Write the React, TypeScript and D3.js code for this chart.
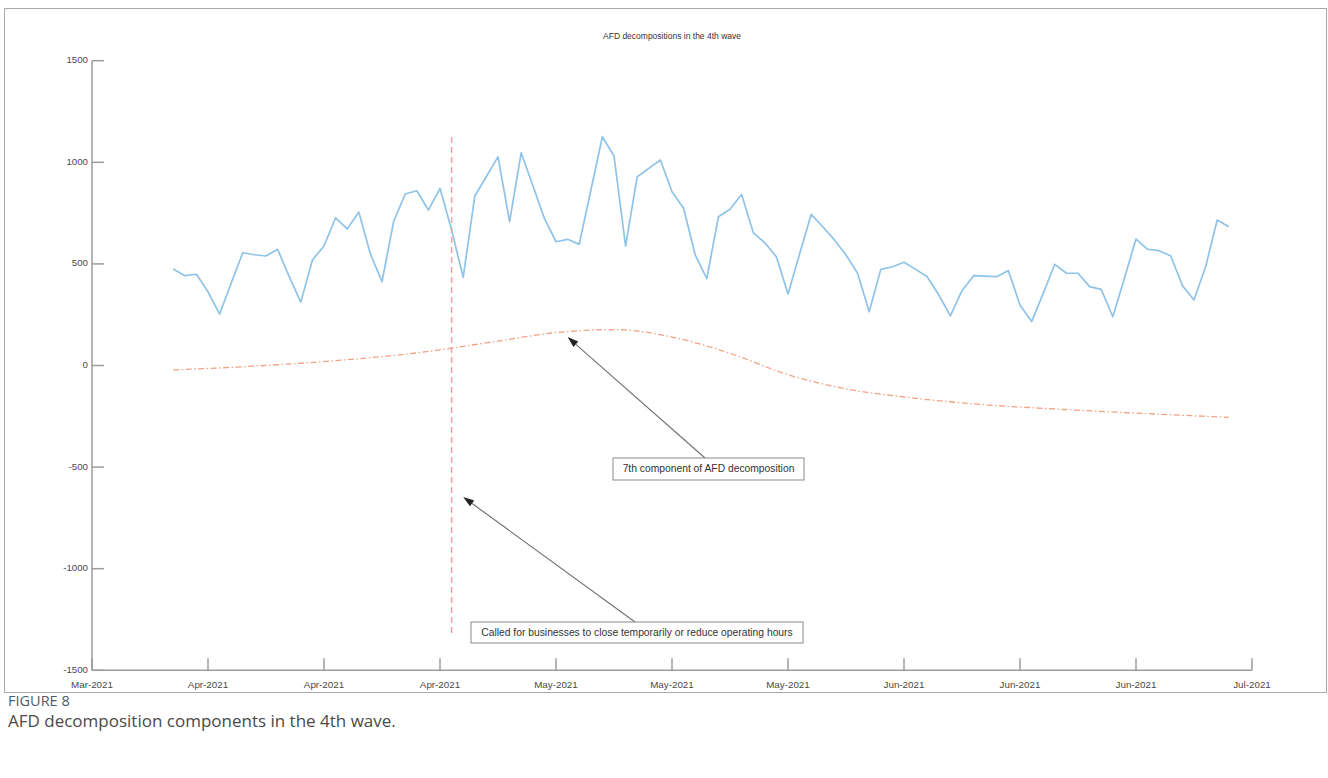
import React from "react";
import * as d3 from "d3";

const W = 1328;
const H = 778;

// Daily series, first value on 7 Apr 2021
const firstDay = "2021-04-07";
const dailyValues = [
  475, 442, 449, 363, 253, 406, 555, 545, 539, 572,
  437, 312, 519, 588, 727, 672, 755, 549, 412, 708,
  844, 860, 765, 872, 667, 434, 834, 930, 1027, 708,
  1047, 886, 724, 609, 621, 596, 861, 1126, 1031, 588,
  929, 970, 1011, 855, 774, 544, 427, 732, 769, 842,
  654, 604, 535, 352, 549, 744, 683, 618, 544, 454,
  265, 473, 486, 508, 473, 437, 347, 244, 368, 442,
  440, 437, 467, 298, 216, 355, 498, 454, 454, 388,
  375, 240, 429, 622, 572, 565, 539, 393, 322, 486,
  716, 683,
];

// 7th AFD component (slow trend), sampled at day offsets from firstDay
const trendDays = [0, 7, 14, 21, 28, 33, 38, 43, 48, 53, 58, 63, 70, 77, 84, 91];
const trendValues = [-22, -3, 24, 62, 120, 162, 177, 140, 60, -45, -115, -155, -193, -217, -237, -255];

// Policy event marker
const eventDay = "2021-05-01";
const eventSpan = [-1325, 1125];

const xDomain = ["2021-03-31", "2021-07-09"];
const xTickDates = [
  "2021-03-31", "2021-04-10", "2021-04-20", "2021-04-30", "2021-05-10", "2021-05-20",
  "2021-05-30", "2021-06-09", "2021-06-19", "2021-06-29", "2021-07-09",
];
const yTicks = [-1500, -1000, -500, 0, 500, 1000, 1500];

const chartTitle = "AFD decompositions in the 4th wave";
const noteTexts = [
  "7th component of AFD decomposition",
  "Called for businesses to close temporarily or reduce operating hours",
];
// arrow tips in data space: [date, value]
const noteTips: [string, number][] = [
  ["2021-05-11", 140],
  ["2021-05-02", -647],
];
const captionLabel = "FIGURE 8";
const captionText = "AFD decomposition components in the 4th wave.";

const parse = d3.timeParse("%Y-%m-%d");
const fmt = d3.timeFormat("%b-%Y");

export default function App() {
  const x = d3
    .scaleTime()
    .domain(xDomain.map((d) => parse(d) as Date))
    .range([92, 1252]);
  const y = d3.scaleLinear().domain([-1500, 1500]).range([670.3, 60.7]);

  const start = parse(firstDay) as Date;
  const daily = dailyValues.map((v, i) => ({ date: d3.timeDay.offset(start, i), v }));
  const trend = trendDays.map((d, i) => ({ date: d3.timeDay.offset(start, d), v: trendValues[i] }));

  const line = d3
    .line<{ date: Date; v: number }>()
    .x((d) => x(d.date))
    .y((d) => y(d.v));
  const smooth = d3
    .line<{ date: Date; v: number }>()
    .x((d) => x(d.date))
    .y((d) => y(d.v))
    .curve(d3.curveMonotoneX);

  const ex = x(parse(eventDay) as Date);
  const axisColor = "#9d9d9d";
  const tickColor = "#4a4a4a";
  const font = "'Liberation Sans', Arial, sans-serif";
  const capFont = "'Open Sans', 'Noto Sans', sans-serif";

  // annotation boxes (pixel layout) and arrow start points on the box edge
  const boxes = [
    { x: 613, y: 458, w: 191, h: 22, ax: 705 },
    { x: 471, y: 622, w: 332, h: 21, ax: 635 },
  ];

  const arrow = (x1: number, y1: number, x2: number, y2: number, key: string) => {
    const ang = Math.atan2(y2 - y1, x2 - x1);
    const L = 11;
    const hw = 3.6;
    const bx = x2 - L * Math.cos(ang);
    const by = y2 - L * Math.sin(ang);
    const px = -Math.sin(ang) * hw;
    const py = Math.cos(ang) * hw;
    return (
      <g key={key}>
        <line x1={x1} y1={y1} x2={bx} y2={by} stroke="#6f6f6f" strokeWidth={1.1} />
        <path d={`M${x2},${y2}L${bx + px},${by + py}L${bx - px},${by - py}Z`} fill="#222" />
      </g>
    );
  };

  return (
    <div style={{ position: "absolute", left: 0, top: 0 }}>
      <svg width={W} height={H} style={{ display: "block", background: "#fff" }}>
        {/* figure frame */}
        <rect x={4.5} y={8.5} width={1322} height={684} fill="none" stroke="#a8a8a8" strokeWidth={1} />

        {/* title */}
        <text x={672} y={37} textAnchor="middle" dominantBaseline="middle" fontFamily={font} fontSize={8.5} fill="#333">
          {chartTitle}
        </text>

        {/* axes */}
        <line x1={92} y1={y(-1500)} x2={92} y2={y(1500)} stroke={axisColor} strokeWidth={1.5} />
        <line x1={92} y1={y(-1500)} x2={1252} y2={y(-1500)} stroke={axisColor} strokeWidth={1.5} />
        {yTicks.map((t) => (
          <g key={"y" + t}>
            <line x1={92} x2={104} y1={y(t)} y2={y(t)} stroke={axisColor} strokeWidth={1.5} />
            <text x={88} y={y(t)} textAnchor="end" dominantBaseline="middle" fontFamily={font} fontSize={9.7} fill={tickColor}>
              {String(t)}
            </text>
          </g>
        ))}
        {xTickDates.map((s) => {
          const d = parse(s) as Date;
          return (
            <g key={"x" + s}>
              <line x1={x(d)} x2={x(d)} y1={y(-1500)} y2={y(-1500) - 12} stroke={axisColor} strokeWidth={1.5} />
              <text x={x(d)} y={685} textAnchor="middle" dominantBaseline="middle" fontFamily={font} fontSize={9.8} fill={tickColor}>
                {fmt(d)}
              </text>
            </g>
          );
        })}

        {/* data */}
        <path d={line(daily) || ""} fill="none" stroke="#8fc3e8" strokeWidth={1.7} strokeLinejoin="round" />
        <path d={smooth(trend) || ""} fill="none" stroke="#f2a285" strokeWidth={1.3} strokeDasharray="6,2.5,1.5,2.5" />
        <line x1={ex} x2={ex} y1={y(eventSpan[1])} y2={y(eventSpan[0])} stroke="#f7a0a0" strokeWidth={1.5} strokeDasharray="6,4" />

        {/* annotations */}
        {boxes.map((b, i) => {
          const tip = noteTips[i];
          const tx = x(parse(tip[0]) as Date);
          const ty = y(tip[1]);
          return (
            <g key={"n" + i}>
              {arrow(b.ax, b.y, tx, ty, "a" + i)}
              <rect x={b.x} y={b.y} width={b.w} height={b.h} fill="#fff" stroke="#8a8a8a" strokeWidth={1} />
              <text x={b.x + b.w / 2} y={b.y + b.h / 2 + 0.5} textAnchor="middle" dominantBaseline="middle" fontFamily={font} fontSize={10.3} fill="#333">
                {noteTexts[i]}
              </text>
            </g>
          );
        })}

        {/* caption */}
        <text x={8} y={706} fontFamily={capFont} fontSize={14.5} fill="#4f5b66">
          {captionLabel}
        </text>
        <text x={8} y={727} fontFamily={capFont} fontSize={17} fill="#4a4a4a">
          {captionText}
        </text>
      </svg>
    </div>
  );
}
